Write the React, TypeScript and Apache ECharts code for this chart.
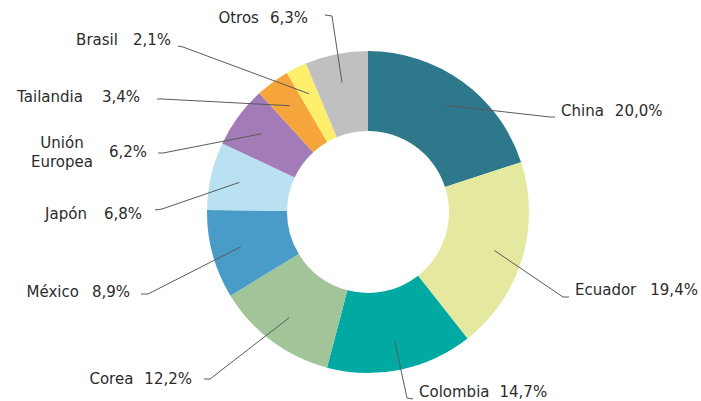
import React, { useEffect, useRef } from "react";
import * as echarts from "echarts";

// ---- data ----
const categories = [
  "China",
  "Ecuador",
  "Colombia",
  "Corea",
  "México",
  "Japón",
  "Unión\nEuropea",
  "Tailandia",
  "Brasil",
  "Otros",
];
const shares = [20.0, 19.4, 14.7, 12.2, 8.9, 6.8, 6.2, 3.4, 2.1, 6.3];
const colors = [
  "#2d798b",
  "#e5e99f",
  "#00a9a1",
  "#a1c599",
  "#4a9cc8",
  "#b9e1f2",
  "#a37bb6",
  "#f6a53b",
  "#fdee6b",
  "#c0c0c0",
];

// ---- label placement (layout only, px): bend point, line end, text anchor ----
const labelBend: number[][] = [
  [550, 117], [563, 297], [407, 398], [210, 379], [148, 294],
  [162, 209], [163, 153], [162, 99], [183, 47], [332, 16],
];
const labelEnd: number[][] = [
  [555, 117], [569, 297], [413, 399], [204, 379], [141, 294],
  [155, 210], [158, 153], [157, 99], [178, 46], [325, 15],
];
const labelText: number[][] = [
  [561, 111], [575, 290], [419, 392], [192, 379], [130, 292],
  [142, 214], [147, 152], [140, 97], [171, 40], [308, 18],
];
const labelGap = [11, 14, 10, 11, 13, 17, 0, 19, 15, 11];

const FONT = "DejaVu Sans";
const TEXT_COLOR = "#2b2b2b";

const fmt = (v: number) => v.toFixed(1).replace(".", ",") + "%";

export default function App() {
  const ref = useRef<HTMLDivElement>(null);

  useEffect(() => {
    if (!ref.current) return;
    const chart = echarts.init(ref.current, undefined, { renderer: "svg" });

    const data = categories.map((name, i) => ({
      name,
      value: shares[i],
      itemStyle: { color: colors[i] },
    }));

    const rich: any = {
      n: { fontFamily: FONT, fontSize: 15, color: TEXT_COLOR },
    };
    labelGap.forEach((g, i) => {
      rich["v" + i] = {
        fontFamily: FONT,
        fontSize: 15,
        color: TEXT_COLOR,
        padding: [0, 0, 0, g],
      };
    });

    const multiIdx = categories.findIndex((c) => c.includes("\n"));

    chart.setOption({
      animation: false,
      backgroundColor: "#ffffff",
      graphic:
        multiIdx >= 0
          ? [
              {
                type: "text",
                x: 62,
                y: 152,
                style: {
                  text: categories[multiIdx],
                  fontFamily: FONT,
                  fontSize: 15,
                  fill: TEXT_COLOR,
                  align: "center",
                  verticalAlign: "middle",
                  lineHeight: 19,
                },
              },
            ]
          : [],
      series: [
        {
          type: "pie",
          z: 2,
          center: [368, 212],
          radius: [81, 161],
          startAngle: 90,
          clockwise: true,
          silent: true,
          label: { show: false },
          labelLine: { show: false },
          emphasis: { disabled: true },
          itemStyle: { borderWidth: 0 },
          data,
        },
        {
          type: "pie",
          z: 5,
          center: [368, 212],
          radius: [0, 132],
          startAngle: 90,
          clockwise: true,
          silent: true,
          avoidLabelOverlap: false,
          emphasis: { disabled: true },
          itemStyle: { color: "rgba(0,0,0,0)", borderWidth: 0 },
          label: {
            show: true,
            position: "outside",
            formatter: (p: any) => {
              const i = p.dataIndex;
              if (categories[i].includes("\n")) return `{v${i}|${fmt(shares[i])}}`;
              return `{n|${categories[i]}}{v${i}|${fmt(shares[i])}}`;
            },
            rich,
          },
          labelLine: {
            show: true,
            length: 5,
            length2: 5,
            lineStyle: { color: "#5a5a5a", width: 1 },
          },
          labelLayout: (p: any) => {
            const i = p.dataIndex;
            const start = p.labelLinePoints ? p.labelLinePoints[0] : labelBend[i];
            const right = labelText[i][0] > labelEnd[i][0];
            return {
              x: labelText[i][0],
              y: labelText[i][1],
              align: right ? "left" : "right",
              verticalAlign: "middle",
              labelLinePoints: [start, labelBend[i], labelEnd[i]],
            };
          },
          data: data.map((d) => ({ name: d.name, value: d.value })),
        },
      ],
    });

    return () => chart.dispose();
  }, []);

  return (
    <div
      ref={ref}
      style={{ position: "absolute", left: 0, top: 0, width: 701, height: 401 }}
    />
  );
}
